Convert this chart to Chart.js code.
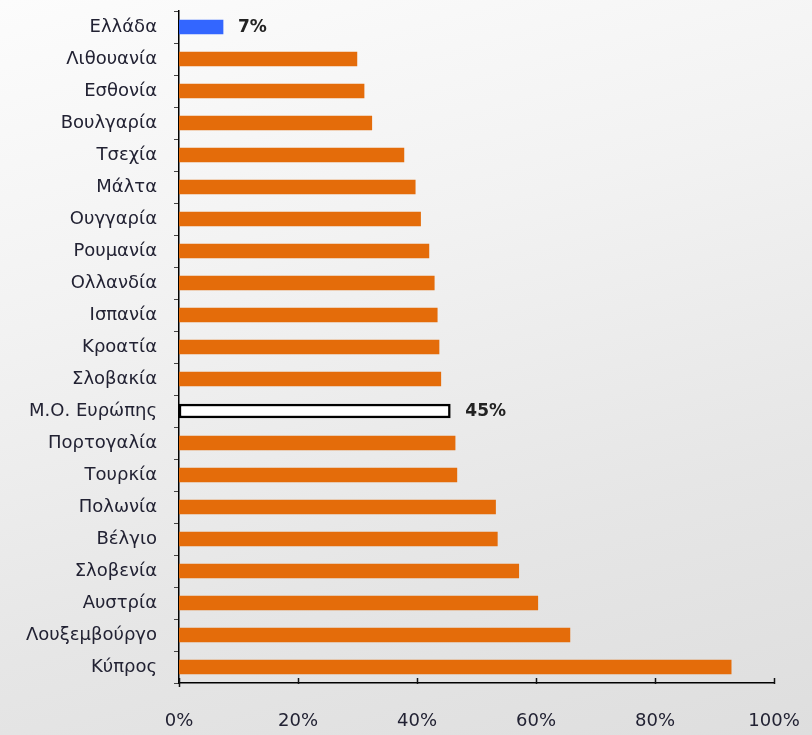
<!DOCTYPE html>
<html>
<head>
<meta charset="utf-8">
<script src="https://cdn.jsdelivr.net/npm/chart.js@4.4.1/dist/chart.umd.min.js"></script>
<style>
  html, body { margin: 0; padding: 0; }
  body { width: 812px; height: 735px; overflow: hidden;
    background: linear-gradient(165deg, #fcfcfc 0%, #f2f2f2 35%, #e6e6e6 70%, #dedede 100%); }
  #wrap { position: relative; width: 812px; height: 735px; }
</style>
</head>
<body>
<div id="wrap"><canvas id="c" width="812" height="735"></canvas></div>
<script>
const categories = ["Ελλάδα","Λιθουανία","Εσθονία","Βουλγαρία","Τσεχία","Μάλτα","Ουγγαρία","Ρουμανία","Ολλανδία","Ισπανία","Κροατία","Σλοβακία","Μ.Ο. Ευρώπης","Πορτογαλία","Τουρκία","Πολωνία","Βέλγιο","Σλοβενία","Αυστρία","Λουξεμβούργο","Κύπρος"];
const values = [7.4, 29.9, 31.1, 32.4, 37.8, 39.7, 40.6, 42.0, 42.9, 43.4, 43.7, 44.0, 45.6, 46.4, 46.7, 53.2, 53.5, 57.1, 60.3, 65.7, 92.8];
const valueLabels = ["7%","","","","","","","","","","","","45%","","","","","","","",""];
const xTickValues = [0, 20, 40, 60, 80, 100];

const ORANGE = "#E46C0A", BLUE = "#3366FF";
const fills = categories.map((c, i) => i === 0 ? BLUE : (c.startsWith("Μ.Ο.") ? "#FFFFFF" : ORANGE));
const borders = categories.map(c => c.startsWith("Μ.Ο.") ? "#000000" : "rgba(0,0,0,0)");
const borderW = categories.map(c => c.startsWith("Μ.Ο.") ? 2.5 : 0);

const valueLabelPlugin = {
  id: "valueLabels",
  afterDatasetsDraw(chart) {
    const ctx = chart.ctx;
    const meta = chart.getDatasetMeta(0);
    ctx.save();
    ctx.font = "bold 17px 'DejaVu Sans', sans-serif";
    ctx.fillStyle = "#222222";
    ctx.textBaseline = "middle";
    meta.data.forEach((bar, i) => {
      if (!valueLabels[i]) return;
      ctx.fillText(valueLabels[i], bar.x + 15, bar.y + 1);
    });
    ctx.restore();
  }
};

const insideTicks = {
  id: "insideTicks",
  afterDraw(chart) {
    const ctx = chart.ctx, xs = chart.scales.x, a = chart.chartArea;
    ctx.save();
    ctx.strokeStyle = "#111";
    ctx.lineWidth = 1.5;
    xTickValues.forEach(v => {
      const px = Math.round(xs.getPixelForValue(v)) + 0.5;
      ctx.beginPath();
      ctx.moveTo(px, a.bottom - 5);
      ctx.lineTo(px, a.bottom + (v === 0 ? 4 : 1));
      ctx.stroke();
    });
    ctx.restore();
  }
};

new Chart(document.getElementById("c"), {
  type: "bar",
  data: {
    labels: categories,
    datasets: [{
      data: values,
      backgroundColor: fills,
      borderColor: borders,
      borderWidth: borderW,
      borderSkipped: false,
      barThickness: 14
    }]
  },
  options: {
    indexAxis: "y",
    responsive: false,
    animation: false,
    layout: { padding: { top: 11, right: 38, left: 0, bottom: 0 } },
    plugins: { legend: { display: false }, tooltip: { enabled: false } },
    scales: {
      x: {
        min: 0, max: 100,
        afterBuildTicks(s) { s.ticks = xTickValues.map(v => ({ value: v })); },
        afterFit(s) { s.height = 52; s.paddingLeft = 0; s.paddingRight = 0; },
        grid: { display: false, drawTicks: false },
        border: { display: true, color: "#000", width: 1.5 },
        ticks: {
          padding: 28,
          color: "#222233",
          font: { family: "'DejaVu Sans', sans-serif", size: 18 },
          callback: v => v + "%"
        }
      },
      y: {
        afterFit(s) { s.width = 179; s.paddingTop = 0; s.paddingBottom = 0; },
        grid: { display: true, drawOnChartArea: false, drawTicks: true, tickLength: 5, color: "#444", offset: true },
        border: { display: true, color: "#000", width: 1.5 },
        ticks: {
          padding: 17,
          color: "#222233",
          font: { family: "'DejaVu Sans', sans-serif", size: 18 }
        }
      }
    }
  },
  plugins: [valueLabelPlugin, insideTicks]
});
</script>
</body>
</html>
